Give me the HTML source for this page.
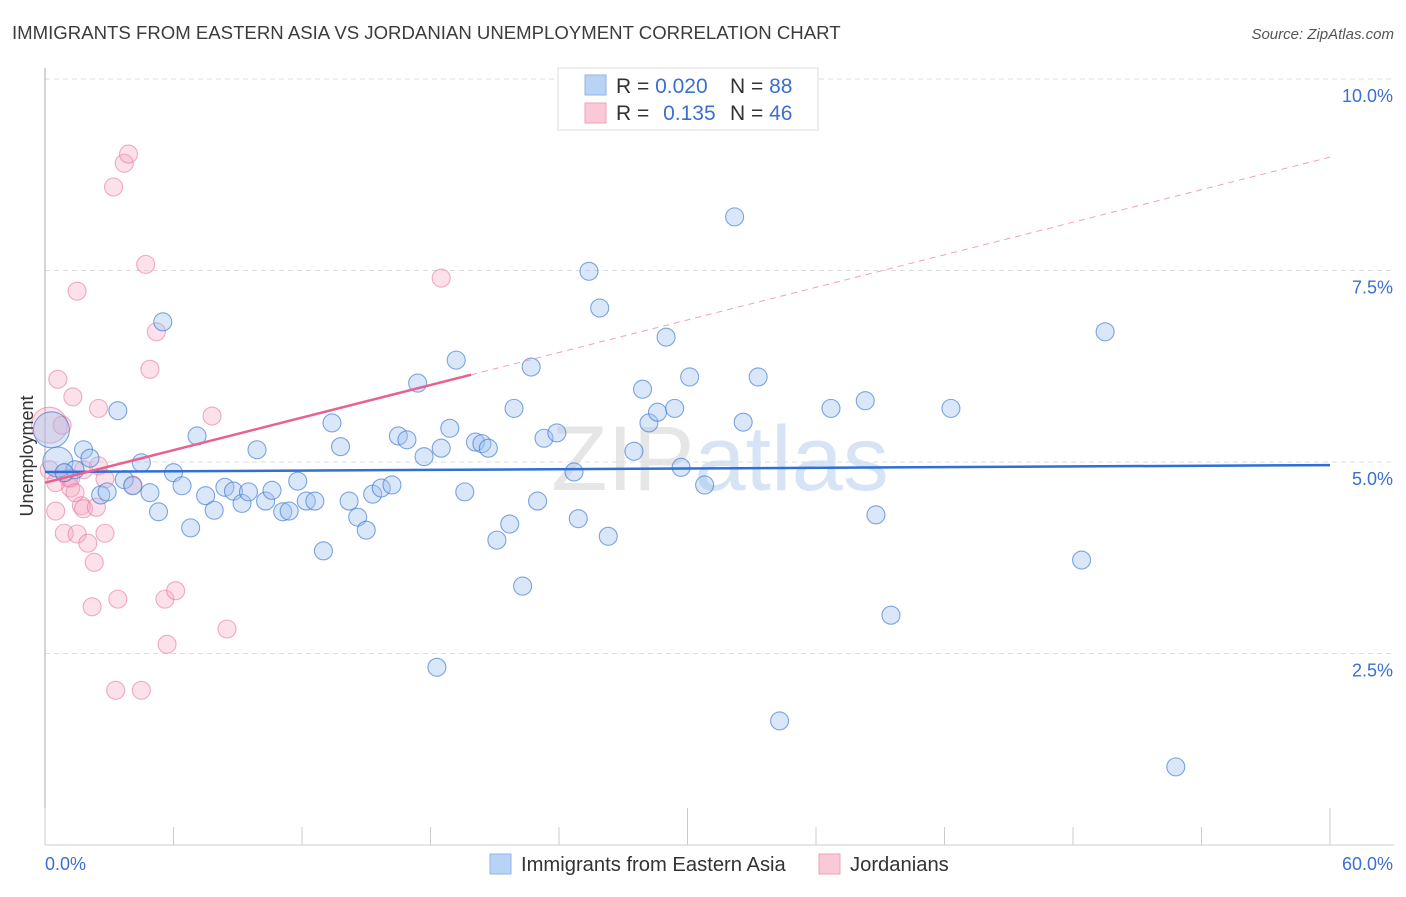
<!DOCTYPE html>
<html><head><meta charset="utf-8"><style>
body{margin:0;background:#fff;font-family:"Liberation Sans",sans-serif;}
svg text{font-family:"Liberation Sans",sans-serif;}
</style></head><body>
<svg id="chart" width="1406" height="892" xmlns="http://www.w3.org/2000/svg">
<text x="12" y="39" font-size="18.6" fill="#3c3c3c">IMMIGRANTS FROM EASTERN ASIA VS JORDANIAN UNEMPLOYMENT CORRELATION CHART</text>
<text x="1394" y="39" font-size="15" fill="#555" text-anchor="end" font-style="italic">Source: ZipAtlas.com</text>
<text x="720" y="490" font-size="92" fill="#e6e6e6" text-anchor="middle" font-family="Liberation Serif">ZIP<tspan fill="#d6e4f5" font-family="Liberation Sans">atlas</tspan></text>
<g id="grid"></g>
<g id="axes"></g>
<g id="pts"></g>
<g id="trend"></g>
<text transform="translate(33,456) rotate(-90)" font-size="18" fill="#333" text-anchor="middle">Unemployment</text>
<g>
<rect x="558" y="68" width="260" height="62" fill="#fff" stroke="#ddd"/>
<rect x="585" y="75" width="21" height="20" fill="#b9d3f5" stroke="#8db4ea"/>
<rect x="585" y="103" width="21" height="20" fill="#f9c9d7" stroke="#eea3b9"/>
<text x="616" y="93" font-size="21" fill="#333">R = <tspan fill="#3b6fd0">0.020</tspan></text>
<text x="730" y="93" font-size="21" fill="#333">N = <tspan fill="#3b6fd0">88</tspan></text>
<text x="616" y="120" font-size="21" fill="#333">R = <tspan fill="#3b6fd0" dx="8">0.135</tspan></text>
<text x="730" y="120" font-size="21" fill="#333">N = <tspan fill="#3b6fd0">46</tspan></text>
</g>
<g>
<rect x="490" y="854" width="21" height="20" fill="#b9d3f5" stroke="#8db4ea"/>
<text x="521" y="871" font-size="20.2" fill="#333">Immigrants from Eastern Asia</text>
<rect x="819" y="854" width="21" height="20" fill="#f9c9d7" stroke="#eea3b9"/>
<text x="850" y="871" font-size="20.2" fill="#333">Jordanians</text>
</g>
</svg>
<script>
const blueX=[0.3,0.6,1.8,1.4,0.9,2.1,3.4,2.6,2.9,3.7,4.1,4.5,4.9,5.3,5.5,6.0,6.4,6.8,7.1,7.5,7.9,8.4,8.8,9.2,9.5,9.9,10.3,10.6,11.1,11.4,11.8,12.2,12.6,13.0,13.4,13.8,14.2,14.6,15.0,15.3,15.7,16.2,16.5,16.9,17.4,17.7,18.3,18.5,18.9,19.2,19.6,20.1,20.4,20.7,21.1,21.7,21.9,22.3,22.7,23.0,23.3,23.9,24.7,24.9,25.4,25.9,26.3,27.5,27.9,28.2,28.6,29.0,29.4,29.7,30.1,30.8,32.2,32.6,33.3,34.3,36.7,38.3,38.8,39.5,42.3,48.4,49.5,52.8];
const blueY=[5.42,5.0,5.16,4.9,4.86,5.05,5.67,4.57,4.61,4.77,4.69,4.99,4.6,4.35,6.83,4.86,4.69,4.14,5.34,4.56,4.37,4.67,4.62,4.46,4.61,5.16,4.49,4.63,4.35,4.36,4.75,4.49,4.49,3.84,5.51,5.2,4.49,4.28,4.11,4.58,4.66,4.7,5.34,5.29,6.03,5.07,2.32,5.18,5.44,6.33,4.61,5.26,5.24,5.18,3.98,4.19,5.7,3.38,6.24,4.49,5.31,5.38,4.87,4.26,7.49,7.01,4.03,5.14,5.95,5.51,5.65,6.63,5.7,4.93,6.11,4.7,8.2,5.52,6.11,1.62,5.7,5.8,4.31,3.0,5.7,3.72,6.7,1.02];
const blueR=[18,15];
const pinkX=[0.2,0.2,0.5,0.5,0.6,0.8,0.9,1.1,1.2,1.3,1.5,1.5,1.7,1.8,1.8,2.0,2.2,2.3,2.4,2.5,2.5,2.8,3.2,3.3,3.4,3.7,3.9,4.1,4.5,4.7,4.9,5.2,5.6,5.7,6.1,7.8,8.5,18.5,1.2,0.9,1.4,2.8];
const pinkY=[5.48,4.9,4.73,4.36,6.08,5.48,4.07,4.79,4.66,5.85,7.23,4.06,4.43,4.9,4.39,3.94,3.11,3.69,4.41,5.7,4.95,4.07,8.59,2.02,3.21,8.9,9.02,4.7,2.02,7.58,6.21,6.7,3.21,2.62,3.32,5.6,2.82,7.4,4.79,4.86,4.6,4.78];
const yTicks=[2.5,5.0,7.5,10.0];
const xTicks=[0,6,12,18,24,30,36,42,48,54,60];
const blueTrend=[4.87,4.96];
const pinkTrend=[4.73,8.98];
const pinkSolidEnd=19.9;
const NS="http://www.w3.org/2000/svg";
const sx=v=>45+v/60*1285, sy=v=>845-v*76.6;
function mk(tag,attrs,parent){const e=document.createElementNS(NS,tag);for(const k in attrs)e.setAttribute(k,attrs[k]);parent.appendChild(e);return e;}
const grid=document.getElementById('grid'),axes=document.getElementById('axes'),pts=document.getElementById('pts'),tr=document.getElementById('trend');
yTicks.forEach(t=>{
 const l=mk('line',{x1:45,x2:1394,y1:sy(t),y2:sy(t),stroke:'#ddd','stroke-dasharray':'5,4'},grid);
 
 
 const tx=mk('text',{x:1393,y:sy(t)+23,'font-size':18,fill:'#3b6fd0','text-anchor':'end'},grid);
 tx.textContent=t.toFixed(1)+'%';
 
 
});
mk('line',{x1:45,x2:45,y1:68,y2:845,stroke:'#aaa'},axes);
mk('line',{x1:45,x2:1394,y1:845,y2:845,stroke:'#ccc'},axes);
xTicks.forEach((t,i)=>{
 const l=mk('line',{x1:sx(t),x2:sx(t),y1:(i%5===0?808:827),y2:845,stroke:'#ccc'},axes);
 
 
});
const x0=mk('text',{x:45,y:870,'font-size':18,fill:'#3b6fd0'},axes);x0.textContent=xTicks[0].toFixed(1)+'%';


const x1=mk('text',{x:1393,y:870,'font-size':18,fill:'#3b6fd0','text-anchor':'end'},axes);x1.textContent=xTicks[xTicks.length-1].toFixed(1)+'%';


pinkX.forEach((x,i)=>{
 const c=mk('circle',{cx:sx(x),cy:sy(pinkY[i]),r:i===0?18:9,fill:'rgba(246,170,196,0.35)',stroke:'rgba(232,120,160,0.6)','stroke-width':1.1},pts);
 
 
});
blueX.forEach((x,i)=>{
 const c=mk('circle',{cx:sx(x),cy:sy(blueY[i]),r:blueR[i]||9,fill:'rgba(160,196,240,0.4)',stroke:'rgba(60,120,210,0.65)','stroke-width':1.1},pts);
 
 
});
const bl=mk('line',{x1:sx(0),y1:sy(blueTrend[0]),x2:sx(60),y2:sy(blueTrend[1]),stroke:'#2f6fd6','stroke-width':2.5},tr);


const pm=pinkTrend[0]+(pinkTrend[1]-pinkTrend[0])*pinkSolidEnd/60;
const pl=mk('line',{x1:sx(0),y1:sy(pinkTrend[0]),x2:sx(pinkSolidEnd),y2:sy(pm),stroke:'#e8618f','stroke-width':2.5},tr);


const pd=mk('line',{x1:sx(pinkSolidEnd),y1:sy(pm),x2:sx(60),y2:sy(pinkTrend[1]),stroke:'#f0a0bb','stroke-width':1,'stroke-dasharray':'6,5'},tr);


</script>
</body></html>
